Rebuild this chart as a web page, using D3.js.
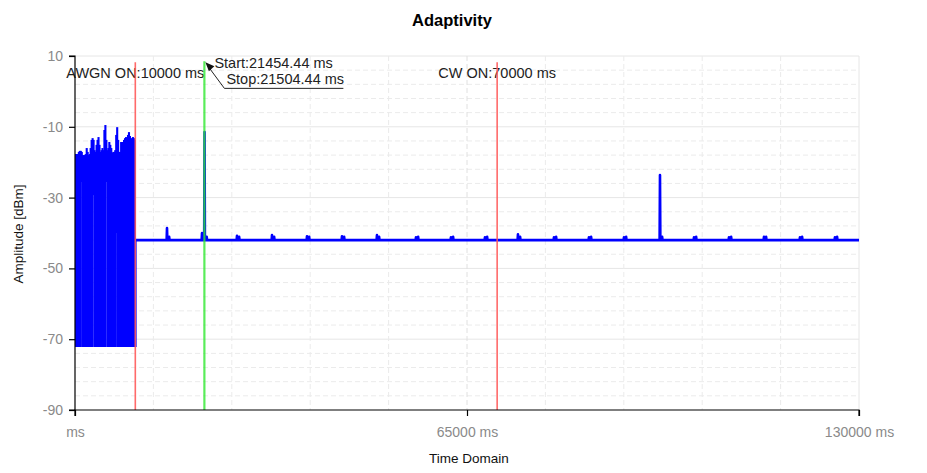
<!DOCTYPE html>
<html>
<head>
<meta charset="utf-8">
<script src="https://cdn.jsdelivr.net/npm/d3@7/dist/d3.min.js"></script>
<style>
  html, body { margin: 0; padding: 0; background: #fff; }
  svg { display: block; font-family: "Liberation Sans", Arial, sans-serif; }
</style>
</head>
<body>
<svg id="chart" width="927" height="473"></svg>
<script>
// ---------------- data ----------------
const title = "Adaptivity";
const xTitle = "Time Domain";
const yTitle = "Amplitude [dBm]";
const xTickValues = [0, 65000, 130000];
const xTickLabels = ["ms", "65000 ms", "130000 ms"];
const yTickValues = [10, -10, -30, -50, -70, -90];

// burst region (AWGN on) : sample envelope, one sample every burstStep ms
const burstStart = 150;
const burstStep = 163;
const burstMax = [
  -17.7, -17.7, -17.7, -17.1, -16.8, -16.8, -17.1, -18.0, -18.0, -18.0,
  -17.7, -16.0, -17.1, -18.0, -17.7, -16.0, -13.7, -13.2, -13.7, -16.6,
  -17.1, -15.1, -13.7, -12.9, -15.1, -17.1, -16.6, -16.0, -16.6, -10.9,
  -9.5, -13.7, -16.6, -16.0, -14.3, -15.1, -16.0, -17.4, -17.1, -17.1,
  -16.6, -12.3, -10.1, -13.7, -17.1, -17.1, -14.3, -14.3, -16.6, -13.7,
  -13.2, -12.9, -13.7, -12.3, -11.5, -12.6, -13.7, -13.2, -12.9, -13.2, -13.7
];
const burstMin = [
  -72.2, -72.2, -72.2, -72.2, -72.2, -72.2, -25.6, -72.2, -72.2, -72.2,
  -72.2, -72.2, -72.2, -72.2, -72.2, -72.2, -72.2, -72.2, -29.3, -72.2,
  -72.2, -72.2, -72.2, -72.2, -72.2, -72.2, -72.2, -72.2, -72.2, -72.2,
  -72.2, -25.6, -72.2, -72.2, -72.2, -72.2, -72.2, -72.2, -72.2, -72.2,
  -72.2, -40.0, -72.2, -72.2, -72.2, -72.2, -72.2, -72.2, -72.2, -72.2,
  -72.2, -72.2, -72.2, -72.2, -72.2, -72.2, -72.2, -72.2, -72.2, -72.2, -72.2
];

// after AWGN: noise floor with small periodic bumps
const floorStart = 10000;
const floorEnd = 130000;
const floorLevel = -42.0;
const bumpTimes = [15255, 21060, 21480, 26860, 32665, 38470, 44270, 50070, 56540, 62340,
                   67980, 73450, 79420, 85220, 91030, 97000, 102640, 108440, 114240, 120210, 126010];
const bumpPeaks = [-38.6, -40.0, -11.5, -40.8, -40.6, -40.9, -40.9, -40.6, -41.2, -41.2,
                   -41.2, -40.4, -41.2, -41.2, -41.2, -23.6, -41.2, -41.2, -41.1, -41.2, -41.2];

// markers
const eventTimes = [10000, 70000];
const eventLabels = ["AWGN ON", "CW ON"];
const markerStart = 21454.44;
const markerStop = 21504.44;
const markerTop = 8.2;

// ---------------- chart ----------------
const svg = d3.select("#chart");
const x = d3.scaleLinear().domain([0, 130000]).range([75, 859]);
const y = d3.scaleLinear().domain([-90, 10]).range([410, 56]);

svg.append("defs").append("clipPath").attr("id", "plotClip")
  .append("rect").attr("x", x(0)).attr("y", y(10) - 10)
  .attr("width", x(130000) - x(0) + 1).attr("height", y(-90) - y(10) + 10);

// grid
const grid = svg.append("g");
const yMinor = d3.range(-86, 10, 4).filter(v => (v + 90) % 20 !== 0);
const yMajor = [10, -10, -30, -50, -70];
grid.selectAll(".hmin").data(yMinor).join("line")
  .attr("x1", x(0)).attr("x2", x(130000))
  .attr("y1", d => y(d)).attr("y2", d => y(d))
  .attr("stroke", "#ebebeb").attr("stroke-dasharray", "5,3").attr("stroke-width", 1);
grid.selectAll(".hmaj").data(yMajor).join("line")
  .attr("x1", x(0)).attr("x2", x(130000))
  .attr("y1", d => y(d)).attr("y2", d => y(d))
  .attr("stroke", "#e6e6e6").attr("stroke-width", 1);
const xMinor = d3.range(13000, 130000, 13000);
grid.selectAll(".vmin").data(xMinor).join("line")
  .attr("x1", d => x(d)).attr("x2", d => x(d))
  .attr("y1", y(10)).attr("y2", y(-90))
  .attr("stroke", d => d === 65000 ? "#e0e0e0" : "#ebebeb")
  .attr("stroke-dasharray", "5,3").attr("stroke-width", 1);
grid.append("line")
  .attr("x1", x(130000)).attr("x2", x(130000)).attr("y1", y(10)).attr("y2", y(-90))
  .attr("stroke", "#e6e6e6");

// event label texts
const evt = svg.append("g");
evt.selectAll("text").data(eventTimes).join("text")
  .attr("x", d => x(d)).attr("y", 78)
  .attr("text-anchor", "middle")
  .attr("font-size", 14.5).attr("fill", "#222")
  .text((d, i) => eventLabels[i] + ":" + d + " ms");

const plot = svg.append("g").attr("clip-path", "url(#plotClip)");

// burst samples
plot.append("g").selectAll("line").data(burstMax).join("line")
  .attr("x1", (d, i) => x(burstStart + i * burstStep))
  .attr("x2", (d, i) => x(burstStart + i * burstStep))
  .attr("y1", d => y(d))
  .attr("y2", (d, i) => y(burstMin[i]))
  .attr("stroke", "#0000ff").attr("stroke-width", 2.1);

// floor series
const pts = [[floorStart, burstMin[burstMin.length - 1]], [floorStart, floorLevel]];
bumpTimes.forEach((t, i) => {
  pts.push([t - 60, floorLevel], [t, bumpPeaks[i]], [t + 60, floorLevel],
           [t + 300, floorLevel], [t + 360, floorLevel + 0.9], [t + 420, floorLevel]);
});
pts.push([floorEnd, floorLevel]);
plot.append("path")
  .datum(pts)
  .attr("fill", "none").attr("stroke", "#0000ff").attr("stroke-width", 2.6)
  .attr("stroke-linejoin", "round")
  .attr("d", d3.line().x(d => x(d[0])).y(d => y(d[1])));

// red event lines
svg.append("g").selectAll("line").data(eventTimes).join("line")
  .attr("x1", d => x(d)).attr("x2", d => x(d))
  .attr("y1", y(markerTop)).attr("y2", y(-90))
  .attr("stroke", "#ff5a5a").attr("stroke-opacity", 0.9).attr("stroke-width", 1.6);

// green marker line
svg.append("line")
  .attr("x1", x(markerStart)).attr("x2", x(markerStart))
  .attr("y1", y(markerTop + 0.3)).attr("y2", y(-90))
  .attr("stroke", "#30e830").attr("stroke-opacity", 0.8).attr("stroke-width", 2.2);

// annotation
const tipX = x(markerStart) + 1, tipY = y(markerTop);
const ann = svg.append("g");
ann.append("path")
  .attr("d", `M${tipX + 19},${tipY + 26} L${tipX + 2},${tipY + 3} M${tipX + 19},${tipY + 26} L${tipX + 138},${tipY + 26}`)
  .attr("stroke", "#222").attr("stroke-width", 1).attr("fill", "none");
ann.append("path")
  .attr("d", `M${tipX},${tipY} L${tipX + 9},${tipY + 4} L${tipX + 3.5},${tipY + 9} Z`)
  .attr("fill", "#111");
ann.append("text").attr("x", tipX + 9).attr("y", tipY + 6)
  .attr("font-size", 14.5).attr("fill", "#222")
  .text("Start:" + markerStart.toFixed(2) + " ms");
ann.append("text").attr("x", tipX + 21).attr("y", tipY + 22)
  .attr("font-size", 14.5).attr("fill", "#222")
  .text("Stop:" + markerStop.toFixed(2) + " ms");

// axes
const yAxis = svg.append("g").attr("transform", `translate(${x(0)},0)`)
  .call(d3.axisLeft(y).tickValues(yTickValues).tickSize(6).tickPadding(6)
        .tickFormat(d => String(d)));
const xAxis = svg.append("g").attr("transform", `translate(0,${y(-90)})`)
  .call(d3.axisBottom(x).tickValues(xTickValues).tickSize(6).tickPadding(11)
        .tickFormat((d, i) => xTickLabels[i]));
[yAxis, xAxis].forEach(a => {
  a.select(".domain").attr("stroke", "#000").attr("stroke-width", 1.2);
  a.selectAll(".tick line").attr("stroke", "#000").attr("stroke-width", 1.2);
  a.selectAll(".tick text").attr("fill", "#8a8a8a").attr("font-size", 14)
    .attr("font-family", "'Liberation Sans', Arial, sans-serif");
});
yAxis.select(".domain").attr("d", `M-6,${y(10)}H0V${y(-90)}H-6`);
xAxis.select(".domain").attr("d", `M${x(0)},6V0H${x(130000)}V6`);

// titles
svg.append("text").attr("x", 452).attr("y", 26)
  .attr("text-anchor", "middle").attr("font-weight", "bold").attr("font-size", 16.5)
  .attr("fill", "#000").text(title);
svg.append("text").attr("x", 469).attr("y", 463)
  .attr("text-anchor", "middle").attr("font-size", 13.5)
  .attr("fill", "#111").text(xTitle);
svg.append("text").attr("transform", "translate(23,234) rotate(-90)")
  .attr("text-anchor", "middle").attr("font-size", 13.5)
  .attr("fill", "#111").text(yTitle);
</script>
</body>
</html>
